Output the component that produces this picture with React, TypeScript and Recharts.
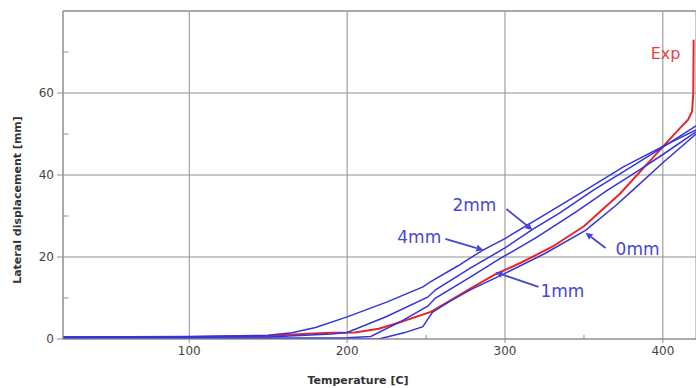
import React from 'react';
import { LineChart, Line, XAxis, YAxis, CartesianGrid, ReferenceLine, ReferenceDot } from 'recharts';

// Temperature [C] / lateral displacement [mm] pairs for each curve
const t4mm = [20, 100, 150, 165, 180, 200, 225, 248, 253, 270, 286, 300, 325, 351, 375, 400, 421];
const d4mm = [0.5, 0.6, 0.9, 1.5, 2.8, 5.4, 9, 12.7, 14, 17.8, 21.7, 24.5, 30.3, 36.3, 42, 47, 51];

const t2mm = [20, 150, 190, 200, 225, 251, 256, 278, 300, 317, 335, 356, 380, 400, 421];
const d2mm = [0.4, 0.5, 1.2, 1.6, 5.5, 10.2, 12, 17.3, 22.2, 26.6, 30.8, 36.3, 42, 46.8, 52];

const t1mm = [20, 200, 215, 235, 251, 256, 278, 296, 320, 345, 365, 385, 400, 421];
const d1mm = [0.2, 0.3, 0.6, 4.5, 8, 10, 15.1, 19.4, 24.8, 31, 36.3, 41.2, 45, 50.5];

const t0mm = [20, 220, 236, 248, 251, 254, 265, 278, 300, 325, 351, 370, 381, 400, 421];
const d0mm = [0, 0, 1.5, 3, 4.8, 6.5, 9.2, 12, 16, 20.8, 26.5, 32.5, 36.3, 43, 50];

const tExp = [20, 100, 150, 175, 190, 205, 220, 232, 253, 265, 278, 294, 310, 330, 350, 373, 392, 405, 411, 416, 418.5, 419.3, 419.5];
const dExp = [0.4, 0.5, 0.8, 1.3, 1.5, 1.6, 2.5, 3.9, 6.6, 9.3, 12.3, 15.8, 18.6, 22.5, 27.5, 35.5, 43.5, 49, 51.5, 53.5, 55.5, 60, 73];

const xTicks = [100, 200, 300, 400];
const yTicks = [0, 20, 40, 60];
const xMinor = [150, 250, 350];
const yMinor = [10, 30, 50, 70];

// annotation labels: text centre and arrow start/tip in data units
const annLabels = ['2mm', '4mm', '1mm', '0mm'];
const annTextT = [280.6, 245.7, 336.4, 384];
const annTextD = [32.7, 24.9, 11.7, 22];
const annFromT = [300.9, 262.2, 321.2, 363.7];
const annFromD = [31.7, 24.4, 12.7, 22.2];
const annToT = [317.4, 286.3, 293.9, 351];
const annToD = [26.6, 21.7, 16.3, 25.9];

const zip = (ts: number[], ds: number[]) => ts.map((t, i) => ({ t, d: ds[i] }));

const BLUE = '#3434d6';
const LABEL_BLUE = '#4646d4';
const RED = '#e6262a';
const GRID = '#8f8f8f';

const Arrow = (props: any) => {
  const { x1, y1, x2, y2 } = props;
  if ([x1, y1, x2, y2].some((v) => typeof v !== 'number' || isNaN(v))) return null;
  const ang = Math.atan2(y2 - y1, x2 - x1);
  const L = 7;
  const W = 3.5;
  const bx = x2 - L * Math.cos(ang);
  const by = y2 - L * Math.sin(ang);
  const px = -Math.sin(ang) * W;
  const py = Math.cos(ang) * W;
  return (
    <g>
      <line x1={x1} y1={y1} x2={bx} y2={by} stroke={LABEL_BLUE} strokeWidth={1.8} />
      <polygon points={`${x2},${y2} ${bx + px},${by + py} ${bx - px},${by - py}`} fill={LABEL_BLUE} />
    </g>
  );
};

export default function App() {
  const font = 'DejaVu Sans, sans-serif';
  return (
    <div style={{ position: 'absolute', left: 0, top: 0, background: '#fff' }}>
      <LineChart width={696} height={388} margin={{ top: 11, right: 0, left: 0, bottom: 0 }}>
        <CartesianGrid stroke={GRID} strokeWidth={1} vertical horizontal />
        <XAxis
          type="number"
          dataKey="t"
          domain={[20, 421]}
          allowDataOverflow
          ticks={xTicks}
          height={49}
          stroke={GRID}
          tickSize={4}
          tickMargin={3}
          tick={{ fill: '#444', fontSize: 12, fontFamily: font }}
          label={{
            content: () => (
              <text x={358} y={384} textAnchor="middle" fontFamily={font} fontWeight="bold" fontSize={11} fill="#333">
                Temperature [C]
              </text>
            ),
          }}
        />
        <YAxis
          type="number"
          domain={[0, 80]}
          allowDataOverflow
          ticks={yTicks}
          width={63}
          stroke={GRID}
          tickSize={6}
          tickMargin={3}
          tick={{ fill: '#444', fontSize: 12, fontFamily: font }}
          label={{
            content: () => (
              <text
                x={21}
                y={200}
                transform="rotate(-90, 21, 200)"
                textAnchor="middle"
                fontFamily={font}
                fontWeight="bold"
                fontSize={11}
                fill="#333"
              >
                Lateral displacement [mm]
              </text>
            ),
          }}
        />
        <ReferenceLine y={80} stroke="#a8a8a8" strokeWidth={2} />
        {xMinor.map((v) => (
          <ReferenceLine key={'xm' + v} segment={[{ x: v, y: 0 }, { x: v, y: 1 }]} stroke={GRID} />
        ))}
        {yMinor.map((v) => (
          <ReferenceLine key={'ym' + v} segment={[{ x: 20, y: v }, { x: 23.5, y: v }]} stroke={GRID} />
        ))}
        <Line data={zip(tExp, dExp)} dataKey="d" stroke={RED} strokeWidth={2} dot={false} isAnimationActive={false} type="linear" />
        <Line data={zip(t4mm, d4mm)} dataKey="d" stroke={BLUE} strokeWidth={1.5} dot={false} isAnimationActive={false} type="linear" />
        <Line data={zip(t2mm, d2mm)} dataKey="d" stroke={BLUE} strokeWidth={1.5} dot={false} isAnimationActive={false} type="linear" />
        <Line data={zip(t1mm, d1mm)} dataKey="d" stroke={BLUE} strokeWidth={1.5} dot={false} isAnimationActive={false} type="linear" />
        <Line data={zip(t0mm, d0mm)} dataKey="d" stroke={BLUE} strokeWidth={1.5} dot={false} isAnimationActive={false} type="linear" />
        {annLabels.map((lab, i) => (
          <ReferenceLine
            key={'ar' + lab}
            segment={[{ x: annFromT[i], y: annFromD[i] }, { x: annToT[i], y: annToD[i] }]}
            shape={Arrow}
          />
        ))}
        {annLabels.map((lab, i) => (
          <ReferenceDot
            key={'lb' + lab}
            x={annTextT[i]}
            y={annTextD[i]}
            r={0}
            fill="none"
            stroke="none"
            label={{ value: lab, position: 'center', fill: LABEL_BLUE, fontSize: 17, fontFamily: 'DejaVu Sans, sans-serif' }}
          />
        ))}
        <ReferenceDot
          x={401.7}
          y={69.8}
          r={0}
          fill="none"
          stroke="none"
          label={{ value: 'Exp', position: 'center', fill: '#e8403e', fontSize: 16, fontFamily: 'DejaVu Sans, sans-serif' }}
        />
      </LineChart>
    </div>
  );
}
